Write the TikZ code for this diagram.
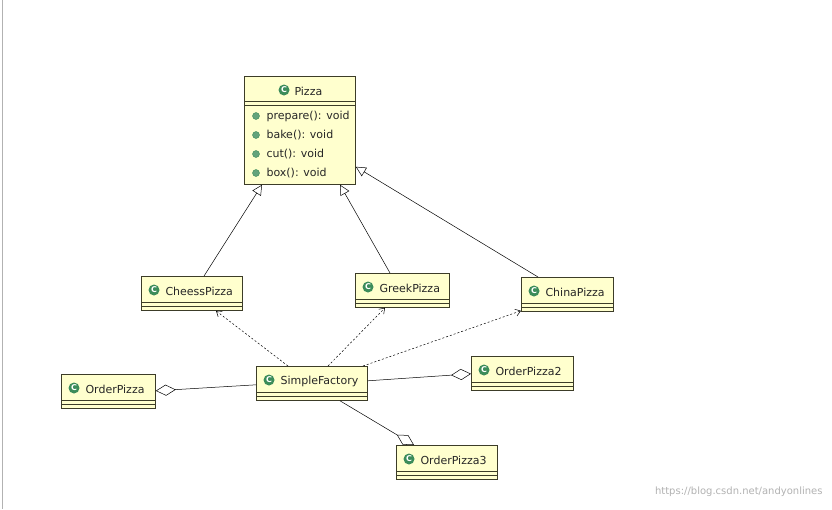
\documentclass[tikz,border=0pt]{standalone}
\usepackage{fontspec}
\setmainfont{DejaVu Sans}
\usetikzlibrary{arrows.meta,calc}
\definecolor{umlfill}{RGB}{255,255,206}
\definecolor{umlline}{RGB}{60,60,40}
\definecolor{icongreen}{RGB}{60,140,90}
\tikzset{
    cls/.style={draw=umlline, fill=umlfill, line width=0.8pt, rectangle,
        minimum width=#1, minimum height=34pt, inner sep=0pt},
    icon/.style={circle, fill=icongreen, inner sep=0pt, minimum size=11pt,
        text=white, font=\fontsize{8}{8}\selectfont\bfseries},
    meth/.style={circle, fill=icongreen!80, draw=icongreen, inner sep=0pt, minimum size=7pt},
    inherit/.style={-{Triangle[open,length=10pt,width=10pt]}, line width=0.5pt},
    depend/.style={-{Straight Barb[length=5pt,width=7pt]}, dashed, dash pattern=on 2pt off 2pt, line width=0.5pt},
    aggr/.style={{Diamond[open,length=20pt,width=11pt]}-, line width=0.5pt},
    lbl/.style={font=\fontsize{11}{13}\selectfont, text=black!85}
}
% class box with name and two empty compartments
\newcommand{\umlclass}[4]{
    \node[cls=#4, anchor=north west] (#1) at (#2) {};
    \node[lbl, anchor=west] (#1-name) at ($(#1.north west)+(21,15)$) {#3};
    \node[icon] (#1-icon) at ($(#1.north west)+(13,14)$) {C};
    \draw[umlline, line width=0.7pt] ($(#1.south west)+(0,-8)$) -- ($(#1.south east)+(0,-8)$);
    \draw[umlline, line width=0.7pt] ($(#1.south west)+(0,-4)$) -- ($(#1.south east)+(0,-4)$);
}
\begin{document}
\begin{tikzpicture}[x=1pt,y=-1pt]
    \useasboundingbox[fill=white] (0,0) rectangle (832,509);
    \draw[gray!60, line width=1pt] (2,0) -- (2,509);

    % Pizza with its methods
    \node[cls=111pt, minimum height=108pt, anchor=north west] (Pizza) at (244,76) {};
    \node[icon] (Pizza-icon) at (284,90) {C};
    \node[lbl, anchor=west] (Pizza-name) at (291,91) {Pizza};
    \draw[umlline, line width=0.7pt] (244,101) -- (355,101);
    \draw[umlline, line width=0.7pt] (244,105) -- (355,105);
    \foreach \m/\y in {prepare(): void/116, bake(): void/135, cut(): void/154, box(): void/173} {
        \node[meth] at (256,\y) {};
        \node[lbl, anchor=west] at (263,\y) {\m};
    }

    % product classes
    \umlclass{Cheess}{141,276}{CheessPizza}{101pt}
    \umlclass{Greek}{355,273}{GreekPizza}{94pt}
    \umlclass{China}{521,277}{ChinaPizza}{92pt}

    % factory and clients
    \umlclass{Order}{61,374}{OrderPizza}{94pt}
    \umlclass{Factory}{256,366}{SimpleFactory}{111pt}
    \umlclass{OrderTwo}{471,356}{OrderPizza2}{102pt}
    \umlclass{OrderThree}{396,445}{OrderPizza3}{101pt}

    % generalisation
    \draw[inherit] ([xshift=63pt]Cheess.north west) -- ([xshift=18pt]Pizza.south west);
    \draw[inherit] ([xshift=35pt]Greek.north west) -- ([xshift=96pt]Pizza.south west);
    \draw[inherit] ([xshift=17pt]China.north west) -- ([yshift=18pt]Pizza.south east);

    % dependencies
    \draw[depend] ([xshift=32pt]Factory.north west) -- ([xshift=75pt]Cheess.south west);
    \draw[depend] ([xshift=72pt]Factory.north west) -- ([xshift=30pt]Greek.south west);
    \draw[depend] ([xshift=107pt]Factory.north west) -- ([yshift=1pt]China.south west);

    % aggregation
    \draw[aggr] ([yshift=18pt]Order.south east) -- ([yshift=16pt]Factory.south west);
    \draw[aggr] ([yshift=17pt]OrderTwo.south west) -- ([yshift=20pt]Factory.south east);
    \draw[aggr] ([xshift=18pt]OrderThree.north west) -- ([xshift=84pt]Factory.south west);

    \node[font=\fontsize{10}{12}\selectfont, text=black!30, anchor=east] (mark) at (826,492) {https://blog.csdn.net/andyonlines};
\end{tikzpicture}
\end{document}
